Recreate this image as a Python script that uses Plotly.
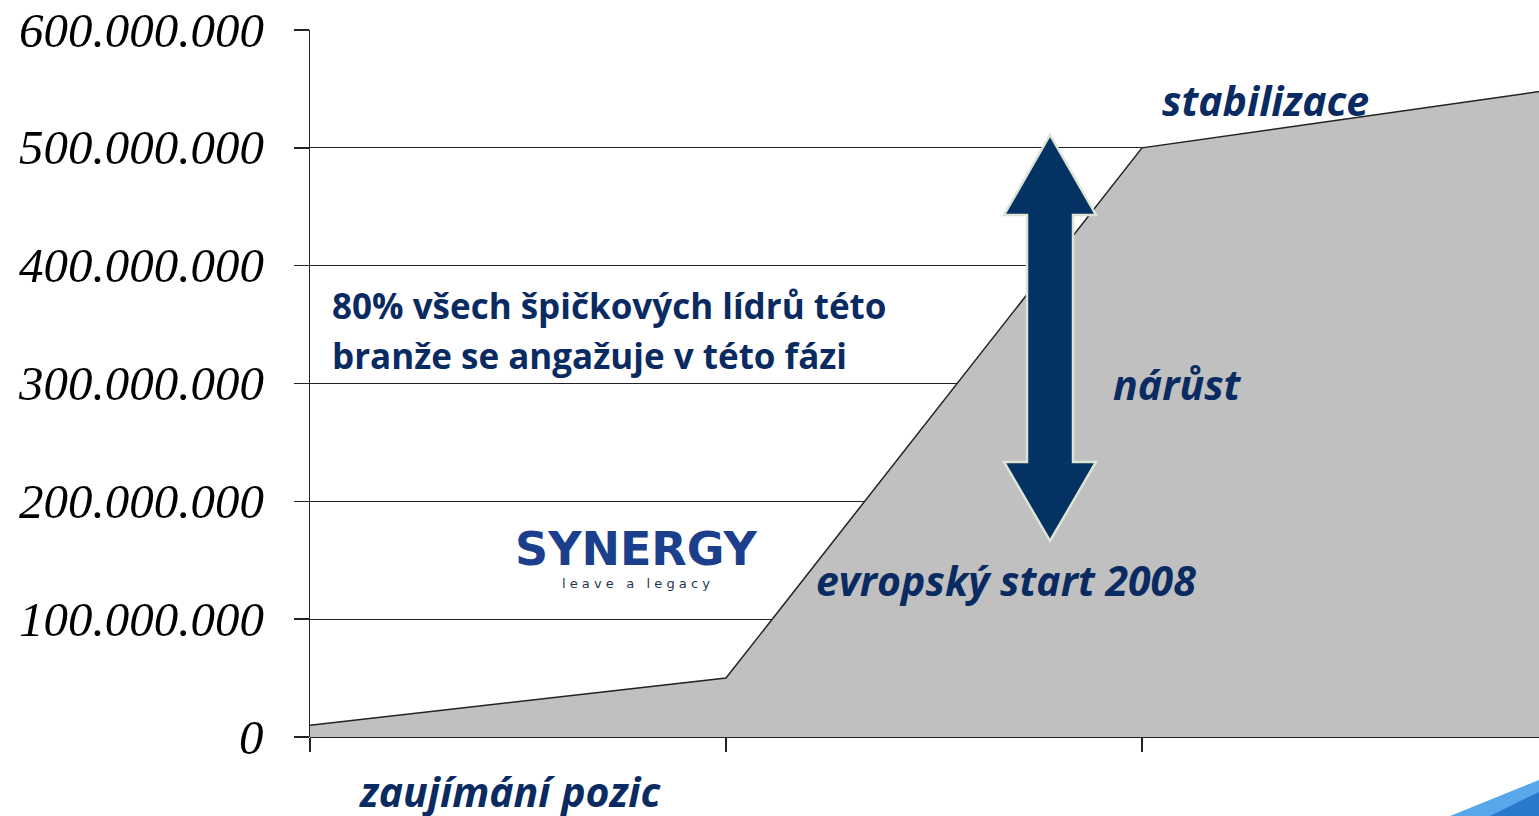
import plotly.graph_objects as go

# ---- data ----
phases = [0, 1, 2, 3]
values = [10_000_000, 50_000_000, 500_000_000, 550_000_000]
y_ticks = [0, 100_000_000, 200_000_000, 300_000_000, 400_000_000, 500_000_000, 600_000_000]
y_tick_labels = ["0", "100.000.000", "200.000.000", "300.000.000", "400.000.000", "500.000.000", "600.000.000"]

W, H = 1539, 816
SX0, SX1, SY0, SY1 = 310, 1539, 30, 737   # plot area in screen pixels
L, T, R, B = SX0, SY0, W - SX1, H - SY1
PW, PH = SX1 - SX0, SY1 - SY0
UNIT = 416  # px per phase

NAVY = "#0a2a62"

def px(x):
    return (x - SX0) / PW

def py(y):
    return (SY1 - y) / PH

fig = go.Figure()
fig.add_trace(go.Scatter(
    x=phases, y=values, mode="lines", fill="tozeroy",
    fillcolor="#c0c0c0", line=dict(color="#222222", width=1.5),
    hoverinfo="skip", showlegend=False,
))

# double-headed arrow (decoration, pixel -> paper)
arrow_pts = [(1050, 135), (1096, 215), (1073, 215), (1073, 462), (1096, 462),
             (1050, 541), (1004, 462), (1027, 462), (1027, 215), (1004, 215)]
path = "M " + " L ".join(f"{px(x):.5f},{py(y):.5f}" for x, y in arrow_pts) + " Z"
shapes = [dict(type="path", xref="paper", yref="paper", path=path,
               fillcolor="#033263", line=dict(color="#dde4d4", width=2.5), layer="above")]

def poly(pts, color):
    return dict(type="path", xref="paper", yref="paper",
                path="M " + " L ".join(f"{px(x):.5f},{py(y):.5f}" for x, y in pts) + " Z",
                fillcolor=color, line=dict(width=0), layer="above")
shapes.append(poly([(1450, 816), (1539, 780), (1539, 816)], "#5aa6ea"))
shapes.append(poly([(1490, 816), (1539, 792), (1539, 816)], "#2a78cc"))

FONT = "Open Sans"
ann = []
def label(text, x, y, size, italic=True, xanchor="center", align="center", color=NAVY, family=FONT):
    t = f"<b><i>{text}</i></b>" if italic else f"<b>{text}</b>"
    ann.append(dict(text=t, x=px(x), y=py(y), xref="paper", yref="paper",
                    xanchor=xanchor, yanchor="middle", align=align, showarrow=False,
                    font=dict(family=family, size=size, color=color)))

label("stabilizace", 1265, 100, 41)
label("nárůst", 1177, 384, 41)
label("evropský start 2008", 1006, 580, 41)
label("zaujímání pozic", 510, 791, 41)
label("80% všech špičkových lídrů této", 330, 305, 35, italic=False, xanchor="left", align="left")
label("branže se angažuje v této fázi", 330, 355, 35, italic=False, xanchor="left", align="left")

# italic y tick labels, placed on the y scale
for v, t in zip(y_ticks, y_tick_labels):
    ann.append(dict(text=f"<i>{t}</i>", x=px(266), y=v, xref="paper", yref="y",
                    xanchor="right", yanchor="middle", showarrow=False,
                    font=dict(family="Liberation Serif", size=49, color="black")))

# logo text
ann.append(dict(text="<b>SYNERGY</b>", x=px(636), y=py(549), xref="paper", yref="paper",
                showarrow=False, xanchor="center", yanchor="middle",
                font=dict(family="DejaVu Sans", size=46, color="#1b3f8c")))
ann.append(dict(text="l e a v e   a   l e g a c y", x=px(636), y=py(583), xref="paper", yref="paper",
                showarrow=False, xanchor="center", yanchor="middle",
                font=dict(family="DejaVu Sans", size=13, color="#2a3550")))

fig.update_layout(
    width=W, height=H, margin=dict(l=L, r=R, t=T, b=B, autoexpand=False),
    paper_bgcolor="white", plot_bgcolor="white",
    shapes=shapes, annotations=ann, showlegend=False,
    xaxis=dict(range=[0, PW / UNIT], tickvals=[0, 1, 2, 3], ticktext=["", "", "", ""],
               ticks="outside", ticklen=14, tickcolor="#222", tickwidth=1.5,
               showline=False, showgrid=False, zeroline=False, fixedrange=True),
    yaxis=dict(range=[0, 600_000_000], tickvals=y_ticks, showticklabels=False,
               ticks="outside", ticklen=15, tickcolor="#222", tickwidth=1.5,
               showline=True, linecolor="#222", linewidth=1.5,
               showgrid=True, gridcolor="#222", gridwidth=1,
               zeroline=True, zerolinecolor="#222", zerolinewidth=1.5,
               fixedrange=True),
)

fig.write_html(
    "out.html",
    config={"displayModeBar": False, "staticPlot": True},
    post_script="document.body.style.margin='0';document.body.style.overflow='hidden';",
)
